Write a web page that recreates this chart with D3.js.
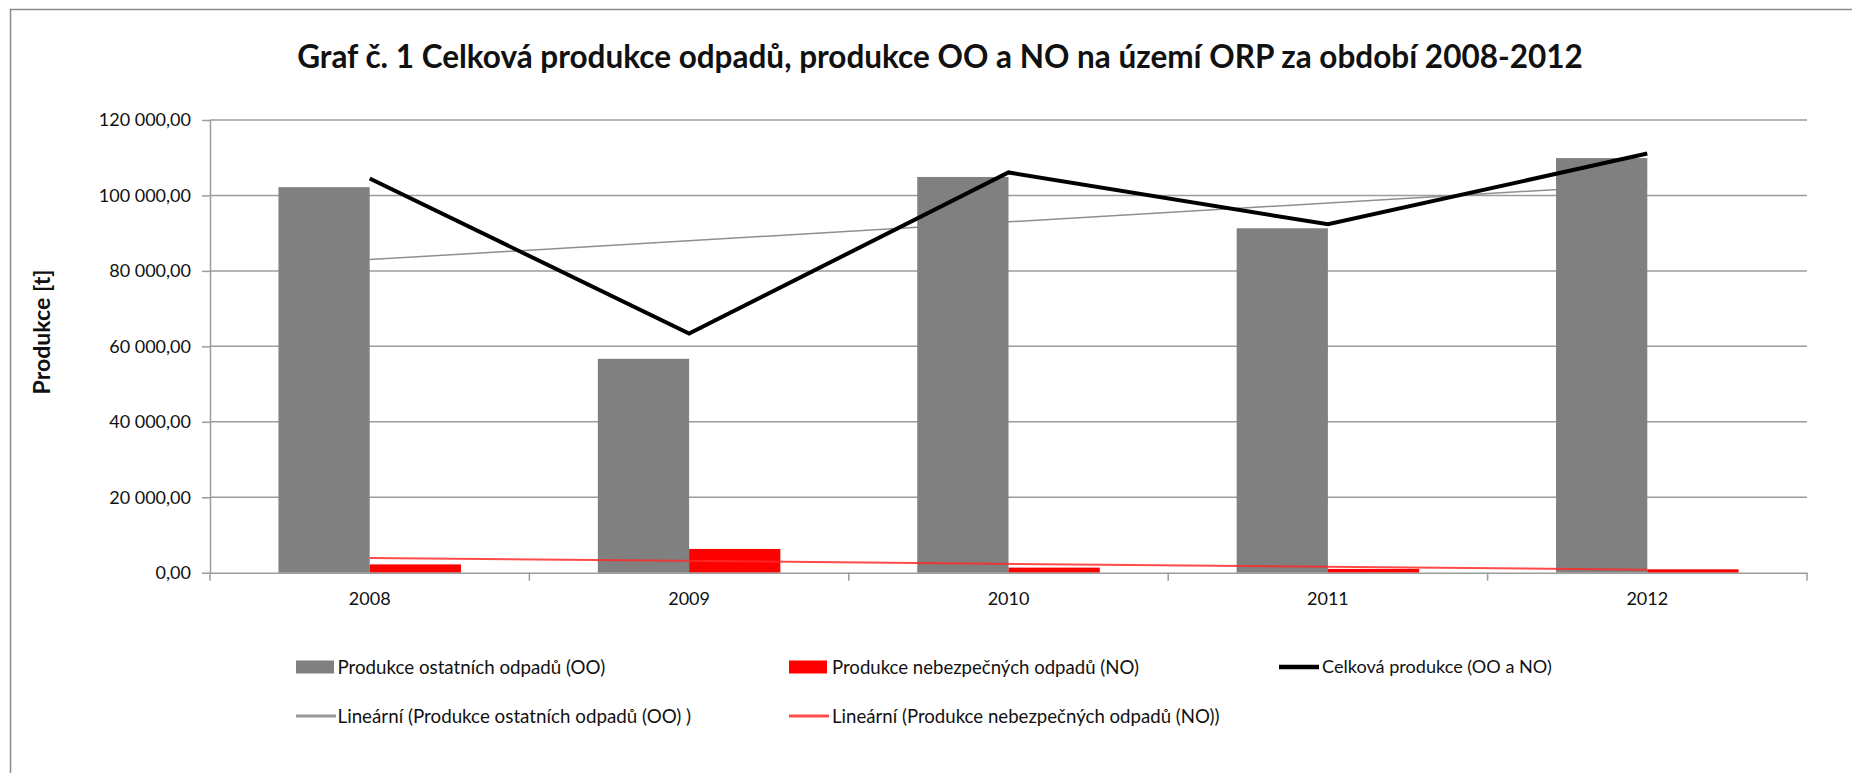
<!DOCTYPE html>
<html><head><meta charset="utf-8">
<script src="https://cdn.jsdelivr.net/npm/d3@7"></script>
<style>
body{margin:0;background:#fff;}
svg{display:block;}
text{font-family:Lato,'Open Sans',sans-serif;fill:#111;}
</style>
</head><body>
<svg id="chart" width="1852" height="773"></svg>
<script>
// ---- data ----
const titleText = "Graf č. 1 Celková produkce odpadů, produkce OO a NO na území ORP za období 2008-2012";
const yAxisTitle = "Produkce [t]";
const years = ["2008", "2009", "2010", "2011", "2012"];
const ooValues = [102200, 56700, 104900, 91300, 109900];
const noValues = [2200, 6300, 1350, 1000, 900];
const totalValues = [104500, 63400, 106100, 92350, 111100];
const ooTrendEnds = [83000, 103000];   // trend line value at first / last year
const noTrendEnds = [3900, 800];
const yTicks = [0, 20000, 40000, 60000, 80000, 100000, 120000];
const legendRow1 = ["Produkce ostatních odpadů (OO)", "Produkce nebezpečných odpadů (NO)", "Celková produkce (OO a NO)"];
const legendRow2 = ["Lineární (Produkce ostatních odpadů (OO) )", "Lineární (Produkce nebezpečných odpadů (NO))"];

// ---- layout ----
const W = 1852, H = 773;
const plot = {left: 210, right: 1807, top: 120, bottom: 572.7};
const colGrey = "#808080", colRed = "#ff0000", colGrid = "#9c9c9c";

const svg = d3.select("#chart");

function fit(sel, target) {
  sel.each(function () {
    const w = this.getComputedTextLength();
    const fs = parseFloat(getComputedStyle(this).fontSize);
    d3.select(this).style("font-size", (fs * target / w) + "px");
  });
}

// outer chart border (left + top visible)
svg.append("path").attr("d", `M10.5,${H} V9.5 H${W}`)
  .attr("fill", "none").attr("stroke", "#8a8a8a").attr("stroke-width", 1.5);

// title
const title = svg.append("text").attr("x", 940).attr("y", 68)
  .attr("text-anchor", "middle").style("font-weight", "bold").style("font-size", "28px")
  .text(titleText);
fit(title, 1286);

// scales
const x = d3.scaleBand().domain(years).range([plot.left, plot.right]).padding(0);
const sub = d3.scaleBand().domain(["OO", "NO"]).range([0, x.bandwidth()]).paddingInner(0).paddingOuter(0.75);
const y = d3.scaleLinear().domain([0, 120000]).range([plot.bottom, plot.top]);
const cx = d => x(d) + x.bandwidth() / 2;

const locale = d3.formatLocale({decimal: ",", thousands: " ", grouping: [3], currency: ["", ""]});
const fmt = locale.format(",.2f");

// gridlines
svg.append("g").selectAll("line").data(yTicks.filter(v => v > 0)).join("line")
  .attr("x1", plot.left).attr("x2", plot.right)
  .attr("y1", d => y(d)).attr("y2", d => y(d))
  .attr("stroke", colGrid).attr("stroke-width", 1.5);

// y axis
const yAxis = svg.append("g").attr("transform", `translate(${plot.left},0)`)
  .call(d3.axisLeft(y).tickValues(yTicks).tickFormat(fmt).tickSize(8).tickSizeOuter(0).tickPadding(11));
yAxis.select(".domain").attr("stroke", colGrid).attr("stroke-width", 1.5);
yAxis.selectAll(".tick line").attr("stroke", colGrid).attr("stroke-width", 1.5);
yAxis.selectAll("text").style("font-size", "18px").style("font-family", "Lato").attr("fill", "#111");

// y axis title
const yt = svg.append("text").attr("transform", "translate(50,332) rotate(-90)")
  .attr("text-anchor", "middle").style("font-weight", "bold").style("font-size", "19px")
  .text(yAxisTitle);
fit(yt, 125);

// grey trend (behind bars)
const trendLine = d3.line().x(d => cx(d.year)).y(d => y(d.v));
svg.append("path")
  .datum([{year: years[0], v: ooTrendEnds[0]}, {year: years[years.length - 1], v: ooTrendEnds[1]}])
  .attr("d", trendLine).attr("fill", "none").attr("stroke", "#8f8f8f").attr("stroke-width", 1.5);

// bars
svg.append("g").selectAll("rect").data(years.map((yr, i) => ({yr, v: ooValues[i]}))).join("rect")
  .attr("x", d => x(d.yr) + sub("OO")).attr("width", sub.bandwidth())
  .attr("y", d => y(d.v)).attr("height", d => y(0) - y(d.v)).attr("fill", colGrey);
svg.append("g").selectAll("rect").data(years.map((yr, i) => ({yr, v: noValues[i]}))).join("rect")
  .attr("x", d => x(d.yr) + sub("NO")).attr("width", sub.bandwidth())
  .attr("y", d => y(d.v)).attr("height", d => y(0) - y(d.v)).attr("fill", colRed);

// x axis
const xAxis = svg.append("g").attr("transform", `translate(0,${plot.bottom})`)
  .call(d3.axisBottom(x).tickSize(0).tickSizeOuter(0).tickPadding(20));
xAxis.select(".domain").attr("stroke", colGrid).attr("stroke-width", 1.5);
xAxis.selectAll("text").style("font-size", "18px").style("font-family", "Lato").attr("fill", "#111");
const bounds = years.map(d => x(d)).concat([x.range()[1]]);
svg.append("g").selectAll("line").data(bounds).join("line")
  .attr("x1", d => d).attr("x2", d => d)
  .attr("y1", plot.bottom).attr("y2", plot.bottom + 8)
  .attr("stroke", colGrid).attr("stroke-width", 1.5);

// red trend
svg.append("path")
  .datum([{year: years[0], v: noTrendEnds[0]}, {year: years[years.length - 1], v: noTrendEnds[1]}])
  .attr("d", trendLine).attr("fill", "none").attr("stroke", "#ff2a2a").attr("stroke-width", 2).attr("opacity", 0.85);

// total line
svg.append("path").datum(years.map((yr, i) => ({yr, v: totalValues[i]})))
  .attr("d", d3.line().x(d => cx(d.yr)).y(d => y(d.v)))
  .attr("fill", "none").attr("stroke", "#000").attr("stroke-width", 4).attr("stroke-linejoin", "miter");

// legend
const legendItems = [
  {label: legendRow1[0], kind: "rect", color: colGrey, sx: 296, tx: 337.5, yc: 667, tw: 268},
  {label: legendRow1[1], kind: "rect", color: colRed, sx: 789, tx: 832, yc: 667, tw: 307},
  {label: legendRow1[2], kind: "line", color: "#000", sw: 4.5, sx: 1279, tx: 1322, yc: 667, tw: 230},
  {label: legendRow2[0], kind: "line", color: "#999", sw: 3, sx: 296, tx: 337.5, yc: 716, tw: 354},
  {label: legendRow2[1], kind: "line", color: "#ff4d4d", sw: 3, sx: 789, tx: 832, yc: 716, tw: 388}
];
const lg = svg.append("g").selectAll("g").data(legendItems).join("g");
lg.filter(d => d.kind === "rect").append("rect")
  .attr("x", d => d.sx).attr("y", d => d.yc - 6.5).attr("width", 38).attr("height", 13).attr("fill", d => d.color);
lg.filter(d => d.kind === "line").append("line")
  .attr("x1", d => d.sx).attr("x2", d => d.sx + 40).attr("y1", d => d.yc).attr("y2", d => d.yc)
  .attr("stroke", d => d.color).attr("stroke-width", d => d.sw);
lg.append("text").attr("x", d => d.tx).attr("y", d => d.yc).attr("dy", "0.35em")
  .style("font-size", "17px").text(d => d.label)
  .each(function (d) { fit(d3.select(this), d.tw); });
</script>
</body></html>
